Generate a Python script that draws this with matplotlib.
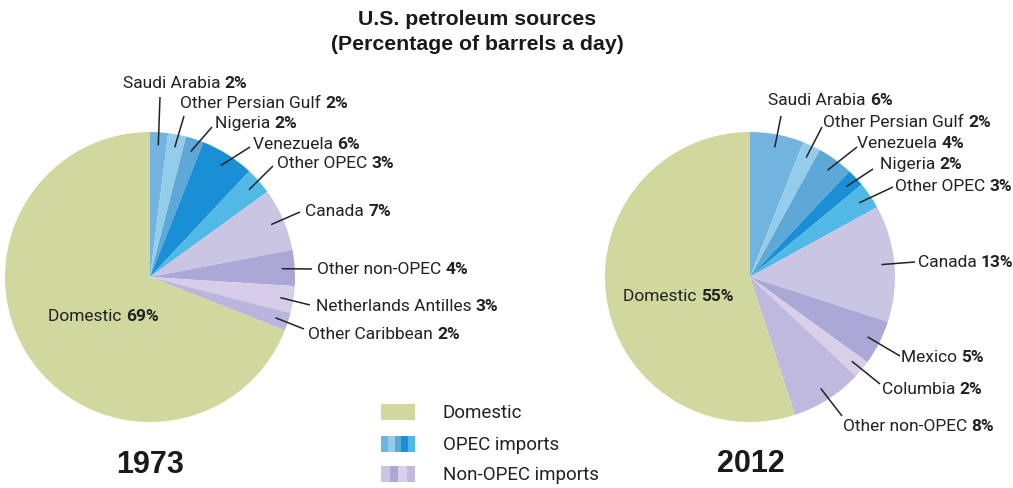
import matplotlib
matplotlib.use("Agg")
import matplotlib.pyplot as plt
import numpy as np
from matplotlib.patches import Rectangle

W, H = 1013, 489

# ---- data ----
labels_1973 = ["Saudi Arabia", "Other Persian Gulf", "Nigeria", "Venezuela", "Other OPEC",
               "Canada", "Other non-OPEC", "Netherlands Antilles", "Other Caribbean", "Domestic"]
values_1973 = [2, 2, 2, 6, 3, 7, 4, 3, 2, 69]
labels_2012 = ["Saudi Arabia", "Other Persian Gulf", "Venezuela", "Nigeria", "Other OPEC",
               "Canada", "Mexico", "Columbia", "Other non-OPEC", "Domestic"]
values_2012 = [6, 2, 4, 2, 3, 13, 5, 2, 8, 55]
legend_labels = ["Domestic", "OPEC imports", "Non-OPEC imports"]

# ---- styles ----
colors_1973 = ["#72b3df", "#93cdea", "#5ea8d8", "#1b8fd5", "#52b9e7",
               "#cbc5e4", "#aaa8d7", "#d6cde8", "#bab5dd", "#d0d89d"]
colors_2012 = ["#72b3df", "#93cdea", "#5ea8d8", "#1b8fd5", "#52b9e7",
               "#cbc5e4", "#aaa8d7", "#dacfe8", "#bfb9de", "#d0d89d"]
NARROW = ["Roboto", "DejaVu Sans"]
SANS = ["Liberation Sans", "DejaVu Sans"]

fig = plt.figure(figsize=(W / 100, H / 100), dpi=100, facecolor="white")
ax = fig.add_axes([0, 0, 1, 1])


def P(x, y):
    return (x, H - y)


# label layout: (text left x, text centre y, line end x, line end y) in pixels
layout_1973 = [(123, 84, 160, 98), (180, 104, 184, 117), (215, 124, 212, 128),
               (253, 145, 250, 148), (277, 164, 273, 167), (305, 212, 300, 213),
               (317, 270, 312, 270), (316, 307, 310, 306), (308, 335, 304, 330),
               (48, 317, None, None)]
layout_2012 = [(768, 101, 781, 117), (823, 123, 822, 128), (857, 144, 857, 148),
               (880, 165, 873, 170), (895, 187, 893, 188), (918, 263, 915, 263),
               (901, 358, 900, 357), (882, 390, 880, 385), (843, 427, 842, 417),
               (623, 297, None, None)]


def draw_pie(values, labels, colors, centre, radius, layout):
    wedges, _ = ax.pie(values, colors=colors, startangle=90, counterclock=False,
                       center=P(*centre), radius=radius, frame=True,
                       wedgeprops=dict(linewidth=0))
    for w, lab, v, (tx, ty, ex, ey) in zip(wedges, labels, values, layout):
        if ex is not None:
            th = np.deg2rad((w.theta1 + w.theta2) / 2)
            sx = w.center[0] + radius * 0.91 * np.cos(th)
            sy = w.center[1] + radius * 0.91 * np.sin(th)
            ax.plot([sx, ex], [sy, H - ey], color="#222222", lw=1.1,
                    solid_capstyle="butt")
        t = ax.text(*P(tx, ty), lab + " ", family=NARROW, fontsize=12.5,
                    color="#222222", va="center", ha="left")
        ax.annotate(f"{v}%", xy=(1, 0.5), xycoords=t, va="center", ha="left",
                    family=NARROW, fontsize=12.5, fontweight="bold", color="#222222")


draw_pie(values_1973, labels_1973, colors_1973, (150, 278), 145, layout_1973)
draw_pie(values_2012, labels_2012, colors_2012, (750, 278), 145, layout_2012)
ax.set_xlim(0, W)
ax.set_ylim(0, H)
ax.set_aspect("equal")
ax.axis("off")

# title
ax.text(*P(477, 20), "U.S. petroleum sources", family=SANS, fontsize=15.3,
        fontweight="bold", ha="center", va="center", color="#1a1a1a")
ax.text(*P(477, 45), "(Percentage of barrels a day)", family=SANS, fontsize=15.3,
        fontweight="bold", ha="center", va="center", color="#1a1a1a")

# years
ax.text(*P(150, 465), "1973", family=SANS, fontsize=22, fontweight="bold",
        ha="center", va="center", color="#1a1a1a")
ax.text(*P(751, 464), "2012", family=SANS, fontsize=22, fontweight="bold",
        ha="center", va="center", color="#1a1a1a")

# legend
swatch_sets = [[colors_1973[-1]], colors_2012[0:5], colors_2012[5:9]]
ys = [413, 445, 475]
for lab, cols, yc in zip(legend_labels, swatch_sets, ys):
    n = len(cols)
    x0, w, h = 381, 34, 16
    for i, c in enumerate(cols):
        ax.add_patch(Rectangle(P(x0 + i * w / n, yc + h / 2), w / n, h,
                               facecolor=c, edgecolor="none"))
    ax.text(*P(443, yc), lab, family=NARROW, fontsize=13.5, ha="left",
            va="center", color="#222222")

fig.savefig("out.png", dpi=100, facecolor="white")
